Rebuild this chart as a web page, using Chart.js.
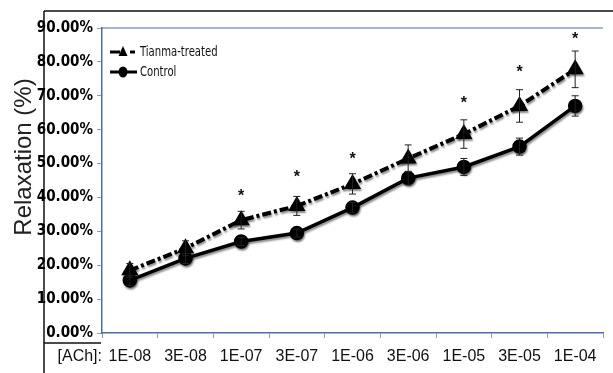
<!DOCTYPE html>
<html>
<head>
<meta charset="utf-8">
<script src="https://cdn.jsdelivr.net/npm/chart.js@4.4.0/dist/chart.umd.min.js"></script>
<style>
  html, body { margin: 0; padding: 0; background: #ffffff; }
  #wrap { width: 613px; height: 373px; position: relative; }
</style>
</head>
<body>
<div id="wrap"><canvas id="c" width="613" height="373"></canvas></div>
<script>
// ---- data ----
const categories = ["1E-08", "3E-08", "1E-07", "3E-07", "1E-06", "3E-06", "1E-05", "3E-05", "1E-04"];
const tianmaValues = [18.5, 25.0, 33.3, 37.5, 44.0, 51.5, 58.7, 67.0, 77.8];
const tianmaErrors = [2.0, 2.2, 2.6, 2.8, 3.0, 4.0, 4.2, 4.8, 5.4];
const controlValues = [15.5, 22.0, 27.0, 29.5, 37.0, 45.7, 49.0, 55.0, 67.0];
const controlErrors = [1.5, 1.5, 1.2, 1.2, 1.5, 2.0, 2.5, 2.5, 3.0];
const starLevels = [null, null, 41.4, 47.0, 52.4, null, 69.0, 78.1, 87.9];
const seriesNames = ["Tianma-treated", "Control"];
const axisTitle = "Relaxation (%)";
const xPrefix = "[ACh]:";
const yMin = 0, yMax = 90, yStep = 10;

const NARROW = "'Liberation Sans Narrow', 'Arial Narrow', 'DejaVu Sans Condensed', sans-serif";
const SANS = "'Liberation Sans', Arial, sans-serif";
const AXIS_BLUE = '#4a6ea9';
const DASH = [9, 3, 3, 3];

const decorPlugin = {
  id: 'decor',
  beforeDraw(chart) {
    const ctx = chart.ctx;
    const ca = chart.chartArea;
    ctx.save();
    ctx.fillStyle = '#fff';
    ctx.fillRect(0, 0, chart.width, chart.height);
    // outer frame lines
    ctx.strokeStyle = '#111';
    ctx.lineWidth = 1.5;
    ctx.beginPath();
    ctx.moveTo(44, 11); ctx.lineTo(chart.width, 11);
    ctx.moveTo(44, 11); ctx.lineTo(44, chart.height);
    ctx.moveTo(44, ca.bottom + 10); ctx.lineTo(ca.left - 1, ca.bottom + 10);
    ctx.stroke();
    // top border of plot area
    ctx.strokeStyle = AXIS_BLUE;
    ctx.lineWidth = 1.2;
    ctx.beginPath();
    ctx.moveTo(ca.left, ca.top); ctx.lineTo(ca.right, ca.top);
    ctx.stroke();
    // axis title
    ctx.fillStyle = '#222';
    ctx.font = "24px " + SANS;
    ctx.textAlign = 'center';
    ctx.textBaseline = 'middle';
    ctx.translate(24, 157);
    ctx.rotate(-Math.PI / 2);
    ctx.fillText(axisTitle, 0, 0);
    ctx.restore();
  },
  beforeDatasetDraw(chart) {
    const ctx = chart.ctx;
    ctx.save();
    ctx.shadowColor = 'rgba(0,0,0,0.45)';
    ctx.shadowOffsetX = 1;
    ctx.shadowOffsetY = 2;
    ctx.shadowBlur = 2;
  },
  afterDatasetDraw(chart) {
    chart.ctx.restore();
  },
  afterDatasetsDraw(chart) {
    const ctx = chart.ctx;
    const xs = chart.scales.x, ys = chart.scales.y;
    const ca = chart.chartArea;
    ctx.save();
    // error bars
    const drawErr = (vals, errs) => {
      ctx.strokeStyle = '#222';
      ctx.lineWidth = 1;
      for (let i = 0; i < vals.length; i++) {
        const x = xs.getPixelForValue(i);
        const yt = ys.getPixelForValue(vals[i] + errs[i]);
        const yb = ys.getPixelForValue(vals[i] - errs[i]);
        ctx.beginPath();
        ctx.moveTo(x, yt); ctx.lineTo(x, yb);
        ctx.moveTo(x - 3.5, yt); ctx.lineTo(x + 3.5, yt);
        ctx.moveTo(x - 3.5, yb); ctx.lineTo(x + 3.5, yb);
        ctx.stroke();
      }
    };
    drawErr(tianmaValues, tianmaErrors);
    drawErr(controlValues, controlErrors);
    // significance stars
    ctx.fillStyle = '#111';
    ctx.font = "bold 16px " + SANS;
    ctx.textAlign = 'center';
    ctx.textBaseline = 'middle';
    starLevels.forEach((v, i) => {
      if (v === null) return;
      ctx.fillText('*', xs.getPixelForValue(i), ys.getPixelForValue(v) + 4);
    });
    // x prefix label
    ctx.font = "16px " + SANS;
    ctx.fillStyle = '#111';
    ctx.textAlign = 'right';
    ctx.textBaseline = 'middle';
    ctx.fillText(xPrefix, ca.left, ca.bottom + 24);
    // legend
    const lx = ca.left + 8;
    const r1 = ca.top + 24, r2 = ca.top + 44;
    ctx.strokeStyle = '#000';
    ctx.lineWidth = 3;
    ctx.beginPath();
    ctx.moveTo(lx, r1); ctx.lineTo(lx + 10, r1);
    ctx.moveTo(lx + 20, r1); ctx.lineTo(lx + 25, r1);
    ctx.stroke();
    ctx.fillStyle = '#000';
    ctx.beginPath();
    ctx.moveTo(lx + 13, r1 - 6); ctx.lineTo(lx + 17.5, r1 + 4); ctx.lineTo(lx + 8.5, r1 + 4);
    ctx.closePath(); ctx.fill();
    ctx.beginPath();
    ctx.moveTo(lx, r2); ctx.lineTo(lx + 27, r2);
    ctx.stroke();
    ctx.beginPath();
    ctx.ellipse(lx + 13, r2, 4.5, 5.5, 0, 0, Math.PI * 2);
    ctx.fill();
    ctx.font = "14px " + NARROW;
    ctx.textAlign = 'left';
    ctx.fillStyle = '#111';
    ctx.save();
    ctx.translate(lx + 30, 0);
    ctx.scale(0.8, 1);
    ctx.fillText(seriesNames[0], 0, r1);
    ctx.fillText(seriesNames[1], 0, r2);
    ctx.restore();
    ctx.restore();
  }
};

new Chart(document.getElementById('c'), {
  type: 'line',
  data: {
    labels: categories,
    datasets: [
      {
        label: seriesNames[0],
        data: tianmaValues,
        borderColor: '#000',
        backgroundColor: '#000',
        borderWidth: 4,
        borderDash: DASH,
        pointStyle: 'triangle',
        pointRadius: 6,
        pointBackgroundColor: '#000',
        pointBorderColor: '#000',
        tension: 0
      },
      {
        label: seriesNames[1],
        data: controlValues,
        borderColor: '#000',
        backgroundColor: '#000',
        borderWidth: 3.5,
        pointStyle: 'circle',
        pointRadius: 5.5,
        pointBackgroundColor: '#000',
        pointBorderColor: '#000',
        tension: 0
      }
    ]
  },
  options: {
    responsive: false,
    animation: false,
    devicePixelRatio: 1,
    layout: { padding: { left: 0, top: 28, right: 0, bottom: 0 } },
    plugins: { legend: { display: false }, tooltip: { enabled: false } },
    scales: {
      x: {
        type: 'category',
        offset: true,
        afterFit(s) { s.height = 40; },
        grid: { drawOnChartArea: false, drawTicks: true, tickLength: 5, tickColor: '#9a9a9a', offset: true },
        border: { display: true, color: AXIS_BLUE, width: 1.5 },
        ticks: { color: '#111', font: { family: SANS, size: 16 }, padding: 9, maxRotation: 0, autoSkip: false }
      },
      y: {
        min: yMin, max: yMax,
        afterFit(s) { s.width = 102; },
        grid: { drawOnChartArea: false, drawTicks: true, tickLength: 5, tickColor: '#9a9a9a' },
        border: { display: true, color: AXIS_BLUE, width: 1.5 },
        ticks: {
          stepSize: yStep,
          color: '#000',
          padding: 4,
          font: { family: NARROW, size: 15, weight: 'bold' },
          callback: (v) => v.toFixed(2) + '%'
        }
      }
    }
  },
  plugins: [decorPlugin]
});
</script>
</body>
</html>
